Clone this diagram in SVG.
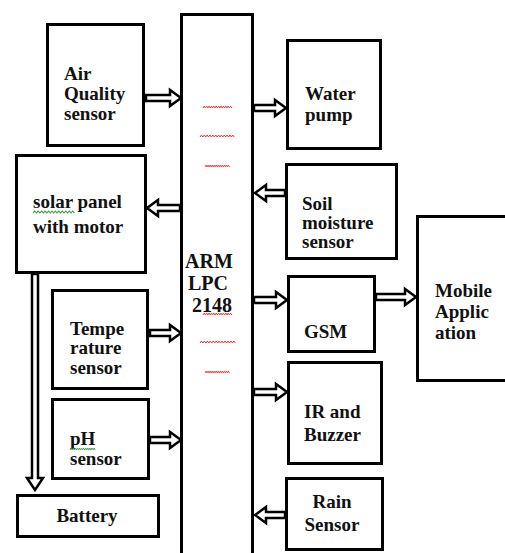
<svg xmlns="http://www.w3.org/2000/svg" width="505" height="553" viewBox="0 0 505 553">
<style>
.box{fill:#fff;stroke:#000;stroke-width:3}
text{font-family:'Liberation Serif','DejaVu Serif',serif;font-weight:700;font-size:19px;fill:#111}
.arr{fill:#fff;stroke:#000;stroke-width:2.5;stroke-linejoin:miter}
.red{fill:none;stroke:#f03030;stroke-width:1}
.grn{fill:none;stroke:#3a9a3a;stroke-width:1}
</style>
<defs>
<path id="sq" d="M0,0 l1.5,-2 l1.5,2 l1.5,-2 l1.5,2 l1.5,-2 l1.5,2 l1.5,-2 l1.5,2 l1.5,-2 l1.5,2 l1.5,-2 l1.5,2 l1.5,-2 l1.5,2 l1.5,-2 l1.5,2 l1.5,-2 l1.5,2 l1.5,-2 l1.5,2 l1.5,-2 l1.5,2 l1.5,-2 l1.5,2"/>
</defs>
<rect width="505" height="553" fill="#fff"/>
<g id="arm">
<rect class="box" x="181.5" y="14.5" width="71" height="560"/>
<text font-family="Liberation Serif, serif" font-weight="bold" style="font-size:20px"><tspan x="185" y="268">ARM</tspan><tspan x="188" y="290">LPC</tspan><tspan x="192" y="312">2148</tspan></text>
<g class="red">
<use href="#sq" transform="translate(203,108) scale(0.8,1)"/>
<use href="#sq" transform="translate(200,137) scale(0.95,1)"/>
<use href="#sq" transform="translate(205,167) scale(0.68,1)"/>
<use href="#sq" transform="translate(203,315) scale(0.8,1)"/>
<use href="#sq" transform="translate(200,343) scale(0.98,1)"/>
<use href="#sq" transform="translate(205,373) scale(0.68,1)"/>
</g>
</g>
<g id="air">
<rect class="box" x="47.5" y="24.5" width="96" height="121"/>
<text><tspan x="64" y="80">Air</tspan><tspan x="64" y="100">Quality</tspan><tspan x="64" y="120">sensor</tspan></text>
</g>
<g id="solar">
<rect class="box" x="16.5" y="155.5" width="129" height="117"/>
<text><tspan x="33" y="208">solar panel</tspan><tspan x="33" y="233">with motor</tspan></text>
<use class="grn" href="#sq" transform="translate(33,213) scale(1.15,1)"/>
</g>
<g id="temp">
<rect class="box" x="52.5" y="290.5" width="95" height="98"/>
<text><tspan x="70" y="335">Tempe</tspan><tspan x="70" y="354">rature</tspan><tspan x="70" y="374">sensor</tspan></text>
</g>
<g id="ph">
<rect class="box" x="52.5" y="399.5" width="96" height="79"/>
<text><tspan x="70" y="445">pH</tspan><tspan x="70" y="465">sensor</tspan></text>
<use class="grn" href="#sq" transform="translate(70,450) scale(0.7,1)"/>
</g>
<g id="battery">
<rect class="box" x="17.5" y="495.5" width="141" height="41"/>
<text x="87" y="522" text-anchor="middle">Battery</text>
</g>
<g id="water">
<rect class="box" x="287.5" y="40.5" width="93" height="108"/>
<text><tspan x="305" y="100">Water</tspan><tspan x="305" y="121">pump</tspan></text>
</g>
<g id="soil">
<rect class="box" x="286.5" y="164.5" width="110" height="94"/>
<text><tspan x="302" y="210">Soil</tspan><tspan x="302" y="229">moisture</tspan><tspan x="302" y="248">sensor</tspan></text>
</g>
<g id="mobile">
<rect class="box" x="417.5" y="216.5" width="100" height="164"/>
<text><tspan x="435" y="297">Mobile</tspan><tspan x="435" y="318">Applic</tspan><tspan x="435" y="339">ation</tspan></text>
</g>
<g id="gsm">
<rect class="box" x="288.5" y="276.5" width="86" height="75"/>
<text x="304" y="338">GSM</text>
</g>
<g id="ir">
<rect class="box" x="288.5" y="362.5" width="93" height="101"/>
<text><tspan x="304" y="418">IR and</tspan><tspan x="304" y="441">Buzzer</tspan></text>
</g>
<g id="rain">
<rect class="box" x="286.5" y="478.5" width="96" height="71"/>
<text text-anchor="middle"><tspan x="332" y="508">Rain</tspan><tspan x="332" y="531">Sensor</tspan></text>
</g>
<g id="connectors">
<polygon class="arr" points="146,95 170,95 170,90 181,98 170,106 170,101 146,101"/>
<polygon class="arr" points="150,330 170,330 170,325 181,333 170,341 170,336 150,336"/>
<polygon class="arr" points="150,437 170,437 170,432 181,440 170,448 170,443 150,443"/>
<polygon class="arr" points="254,105 275,105 275,100 286,108 275,116 275,111 254,111"/>
<polygon class="arr" points="254,297 276,297 276,292 287,300 276,308 276,303 254,303"/>
<polygon class="arr" points="376,294 405,294 405,289 416,297 405,305 405,300 376,300"/>
<polygon class="arr" points="254,389 276,389 276,384 287,392 276,400 276,395 254,395"/>
<polygon class="arr" points="180,205 158,205 158,200 147,208 158,216 158,211 180,211"/>
<polygon class="arr" points="285,190 266,190 266,185 255,193 266,201 266,196 285,196"/>
<polygon class="arr" points="285,512 266,512 266,507 255,515 266,523 266,518 285,518"/>
<polygon class="arr" points="32,274 32,478 27,478 35,490 43,478 38,478 38,274"/>
</g>
</svg>
